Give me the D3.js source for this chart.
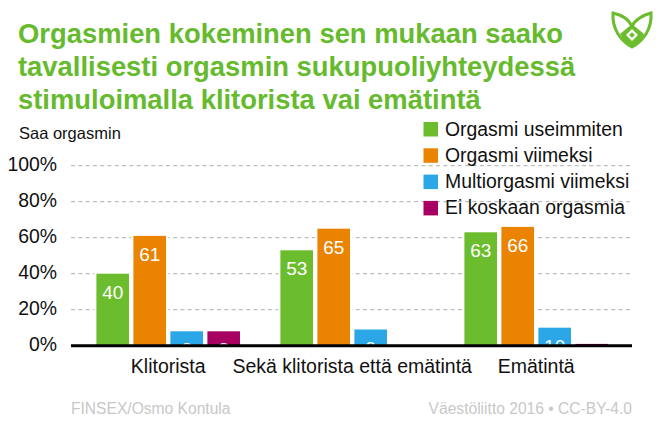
<!DOCTYPE html>
<html><head><meta charset="utf-8">
<script src="https://cdnjs.cloudflare.com/ajax/libs/d3/7.8.5/d3.min.js"></script>
<style>html,body{margin:0;padding:0;background:#fff}svg{display:block}text{font-family:"Liberation Sans",Arial,sans-serif}</style>
</head><body><svg id="c" width="662" height="440"></svg>
<script>
const titleLines=["Orgasmien kokeminen sen mukaan saako","tavallisesti orgasmin sukupuoliyhteydessä","stimuloimalla klitorista vai emätintä"];
const categories=["Klitorista","Sekä klitorista että emätintä","Emätintä"];
const seriesNames=["Orgasmi useimmiten","Orgasmi viimeksi","Multiorgasmi viimeksi","Ei koskaan orgasmia"];
const seriesColors=["#6bbd2d","#e98300","#2ba6e6","#a80062"];
const useimmiten=[40,53,63];
const viimeksi=[61,65,66];
const multi=[8,9,10];
const eiKoskaan=[8,0,1];
const seriesValues=[useimmiten,viimeksi,multi,eiKoskaan];
const yTicks=[0,20,40,60,80,100];

const svg=d3.select("#c");
const base=345.7,top100=165.7;
const y=d3.scaleLinear().domain([0,100]).range([base,top100]);
const x0=d3.scaleBand().domain(categories).range([76.2,628.2]);
const x1=d3.scaleBand().domain(seriesNames).range([-71.8,71.8]).paddingInner(0.119);

svg.selectAll("text.title").data(titleLines).join("text").attr("class","title")
  .attr("x",18).attr("y",(d,i)=>43+i*33).attr("fill","#66ba2e")
  .attr("font-size",27.4).attr("font-weight","bold").text(d=>d);

// logo
const logo=svg.append("g").attr("transform","translate(611,10)");
logo.append("path").attr("d","M2,3 C11,5 18,10 21,16 C24,10 32,5 40,3 C41,18 33,31 21,37 C9,31 1,18 2,3 Z")
  .attr("fill","none").attr("stroke","#6bbd2d").attr("stroke-width",3).attr("stroke-linejoin","miter");
logo.append("path").attr("d","M21,14 L33,24 C30,30 26,34 21,37 C16,34 12,30 9,24 Z").attr("fill","#6bbd2d");
logo.append("path").attr("d","M21,19 L27,25 L21,31 L15,25 Z").attr("fill","#fff");
logo.append("path").attr("d","M21,22.2 L23.8,25 L21,27.8 L18.2,25 Z").attr("fill","#6bbd2d");

svg.append("text").attr("x",19).attr("y",139).attr("font-size",16.5).attr("fill","#111").text("Saa orgasmin");

// grid
svg.selectAll("line.grid").data(yTicks.filter(d=>d>0)).join("line").attr("class","grid")
  .attr("x1",71).attr("x2",632).attr("y1",d=>y(d)).attr("y2",d=>y(d))
  .attr("stroke","#adadad").attr("stroke-width",1).attr("stroke-dasharray","4 3.3");

// axis tick labels
svg.selectAll("text.yt").data(yTicks).join("text").attr("class","yt")
  .attr("x",57).attr("y",d=>y(d)+5.5).attr("text-anchor","end").attr("font-size",19.4).attr("fill","#111").text(d=>d+"%");

svg.append("clipPath").attr("id","plot").append("rect").attr("x",60).attr("y",100).attr("width",590).attr("height",base-100);

const plot=svg.append("g").attr("clip-path","url(#plot)");
const groups=plot.selectAll("g.cat").data(categories).join("g").attr("class","cat")
  .attr("transform",d=>`translate(${x0(d)+x0.bandwidth()/2},0)`);
const cells=groups.selectAll("g.cell").data((c,i)=>seriesNames.map((s,j)=>({s,j,v:seriesValues[j][i]})).filter(d=>d.v>0)).join("g").attr("class","cell");
cells.append("rect").attr("x",d=>x1(d.s)).attr("width",x1.bandwidth())
  .attr("y",d=>y(d.v)).attr("height",d=>base-y(d.v)).attr("fill",d=>seriesColors[d.j])
  .attr("stroke","#fff").attr("stroke-width",4.4).style("paint-order","stroke");
cells.filter(d=>d.v>1).append("text").attr("x",d=>x1(d.s)+x1.bandwidth()/2).attr("y",d=>y(d.v)+25)
  .attr("text-anchor","middle").attr("font-size",19).attr("fill","#fff").text(d=>d.v);

// baseline
svg.append("line").attr("x1",71).attr("x2",632).attr("y1",base).attr("y2",base).attr("stroke","#000").attr("stroke-width",3);

svg.selectAll("text.catlabel").data(categories).join("text").attr("class","catlabel")
  .attr("x",d=>x0(d)+x0.bandwidth()/2).attr("y",373).attr("text-anchor","middle")
  .attr("font-size",19.5).attr("fill","#111").text(d=>d);

// legend
const lg=svg.selectAll("g.lg").data(seriesNames).join("g").attr("class","lg")
  .attr("transform",(d,i)=>`translate(423.5,${122+i*26.3})`);
lg.append("rect").attr("width",14.5).attr("height",14.5).attr("fill",(d,i)=>seriesColors[i]);
lg.append("text").attr("x",21.5).attr("y",13.5).attr("font-size",19.4).attr("fill","#111").text(d=>d);

svg.append("text").attr("x",71).attr("y",414).attr("font-size",15.6).attr("fill","#c8c8c8").text("FINSEX/Osmo Kontula");
svg.append("text").attr("x",632).attr("y",414).attr("text-anchor","end").attr("font-size",15.6).attr("fill","#c8c8c8").text("Väestöliitto 2016 • CC-BY-4.0");
</script></body></html>
